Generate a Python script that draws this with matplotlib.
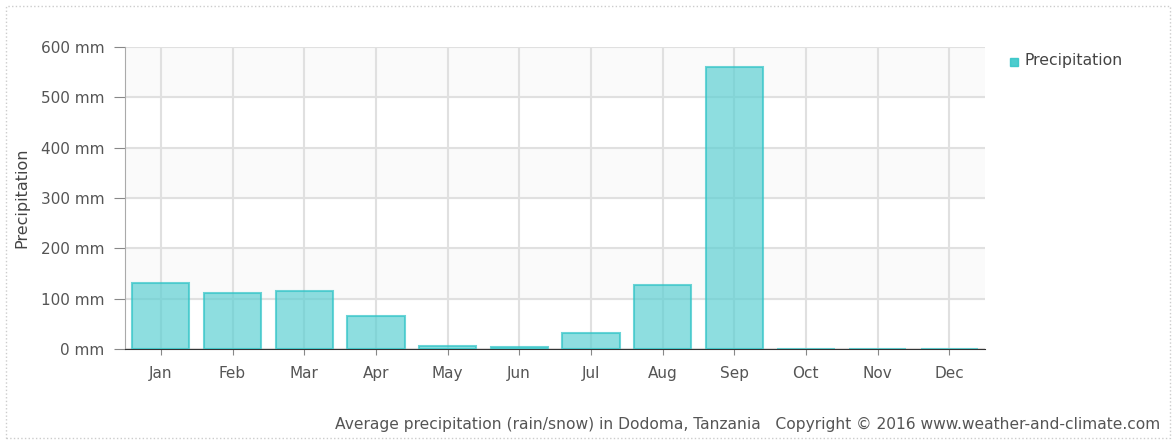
import matplotlib
matplotlib.use("Agg")
import matplotlib.pyplot as plt
from matplotlib.patches import Rectangle

months = ["Jan", "Feb", "Mar", "Apr", "May", "Jun", "Jul", "Aug", "Sep", "Oct", "Nov", "Dec"]
precip_mm = [131, 111, 115, 66, 6, 4, 32, 127, 561, 0, 0, 0]
y_ticks = [0, 100, 200, 300, 400, 500, 600]
y_tick_labels = [f"{v} mm" for v in y_ticks]

plt.rcParams['font.family'] = ['DejaVu Sans']
W, H = 1176, 440
fig = plt.figure(figsize=(W / 100, H / 100), dpi=100)
ax = fig.add_axes([125 / W, 1 - 349 / H, (985 - 125) / W, (349 - 47) / H])

# alternating light bands
for i, lo in enumerate(y_ticks[:-1]):
    if i % 2 == 1:
        ax.axhspan(lo, lo + 100, color="#fafafa", zorder=0)

x = list(range(len(months)))
ax.bar(x, precip_mm, width=0.8, color="#5ed0d3", alpha=0.7,
       edgecolor="#2ec3c6", linewidth=1.5, zorder=3)

ax.set_xlim(-0.5, 11.5)
ax.set_ylim(0, 600)
ax.set_yticks(y_ticks)
ax.set_yticklabels(y_tick_labels, fontsize=11, color="#555555")
ax.set_xticks(x)
ax.set_xticklabels(months, fontsize=11, color="#555555")
ax.grid(True, color="#e0e0e0", linewidth=1.5, zorder=1)
ax.set_axisbelow(True)
for s in ["top", "right"]:
    ax.spines[s].set_visible(False)
ax.spines["left"].set_color("#aaaaaa")
ax.spines["bottom"].set_color("#333333")
ax.tick_params(axis="y", length=8, color="#888888", pad=7)
ax.tick_params(axis="x", length=4, color="#888888", pad=8)
ax.set_ylabel("Precipitation", fontsize=11.5, color="#444444", labelpad=8)

# legend
fig.patches.append(Rectangle((1010 / W, 1 - 66 / H), 8 / W, 8 / H,
                             transform=fig.transFigure, color="#2ec3c6",
                             alpha=0.85, figure=fig))
fig.text(1025 / W, 1 - 61 / H, "Precipitation", fontsize=11.3,
         color="#444444", va="center", ha="left")

fig.text(1160 / W, 1 - 424 / H,
         "Average precipitation (rain/snow) in Dodoma, Tanzania   Copyright \u00a9 2016 www.weather-and-climate.com",
         fontsize=11.2, color="#555555", ha="right", va="center")

# dotted frame
fig.patches.append(Rectangle((6 / W, 2 / H), (1170 - 6) / W, (H - 8) / H,
                             transform=fig.transFigure, fill=False,
                             edgecolor="#cccccc", linestyle=":", linewidth=1,
                             figure=fig))

fig.savefig("out.png", dpi=100)
